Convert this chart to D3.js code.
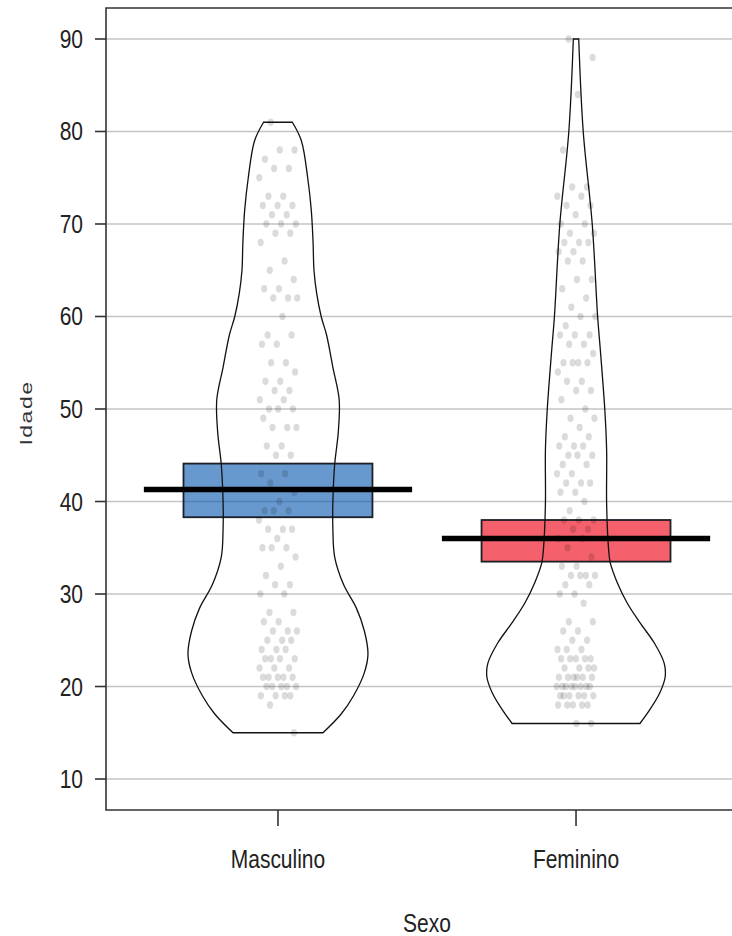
<!DOCTYPE html>
<html>
<head>
<meta charset="utf-8">
<script src="https://cdnjs.cloudflare.com/ajax/libs/d3/7.8.5/d3.min.js"></script>
<style>
body { margin: 0; background: #fff; }
svg { display: block; }
</style>
</head>
<body>
<script>

// categories and summary values
var categories = ["Masculino", "Feminino"]
var means = [41.3, 36.0]
var hdiLow = [38.3, 33.5]
var hdiHigh = [44.1, 38.0]
var barColors = ["#0C5BB0", "#EE0011"]

var yTicks = [10, 20, 30, 40, 50, 60, 70, 80, 90]

// violin outline: age and relative density
var mascDensAge = [15, 17, 19, 21.5, 23.5, 26, 28.5, 31, 34, 37, 40, 44, 47.5, 51, 54.5, 58, 60, 62.5, 65, 68, 71.5, 75, 79, 81]
var mascDens = [0.50, 0.70, 0.84, 0.96, 1.00, 0.96, 0.87, 0.73, 0.63, 0.61, 0.61, 0.63, 0.67, 0.68, 0.61, 0.54, 0.48, 0.43, 0.40, 0.39, 0.37, 0.33, 0.26, 0.16]
var femDensAge = [16, 17.5, 19.3, 21, 22.5, 24.7, 26.9, 29, 31.2, 33.4, 35.1, 39.8, 45.6, 49.9, 56.4, 60, 70, 80, 90]
var femDens = [0.71, 0.82, 0.93, 0.99, 0.98, 0.87, 0.71, 0.57, 0.46, 0.38, 0.36, 0.34, 0.34, 0.32, 0.27, 0.24, 0.18, 0.08, 0.03]

// raw ages (points)
var mascAges = [81, 78,78, 77, 76,76, 75, 73,73, 72,72,72, 71,71, 70,70,70, 69,69, 68, 66, 65, 64, 63,63, 62,62,62, 60, 58,58, 57,57, 55,55, 54, 53,53, 52,52, 51,51, 50,50,50, 49, 48,48,48, 46,46, 45,45, 43,43, 42, 41, 40, 39,39,39, 38, 37,37,37, 36, 35,35,35, 34, 33, 32, 31,31, 30,30, 28,28, 27,27, 26,26,26, 25,25,25, 24,24,24, 23,23,23,23, 22,22,22, 21,21,21,21,21, 20,20,20,20,20, 19,19,19,19, 18, 15]
var femAges = [90, 88, 84, 78, 74,74, 73,73, 72,72, 71, 70,70, 69,69, 68,68,68, 67,67, 66,66, 64,64, 63, 62, 61, 60,60, 59, 58,58,58, 57,57, 56, 55,55,55,55, 54, 53,53, 52,52, 51, 50, 49,49, 48, 47,47, 46,46,46, 45,45,45, 44,44, 43,43, 42,42,42, 41,41, 40, 39, 38,38,38, 37,37, 36,36, 35, 34, 33,33, 32,32,32,32, 31,31, 30,30, 29, 27,27, 26,26, 25,25, 24,24,24, 23,23,23,23,23, 22,22,22,22, 21,21,21,21,21,21, 20,20,20,20,20,20,20,20, 19,19,19,19,19,19, 18,18,18,18,18, 16,16]

var W = 732, H = 936
var panelL = 106, panelR = 748, panelT = 8, panelB = 810
var stretch = 1.22
var narrow = "'Liberation Sans Narrow', 'Arial Narrow', 'Liberation Sans', sans-serif"

var svg = d3.select("body").append("svg")
.attr("width", W)
.attr("height", H)

var x = d3.scaleLinear().domain([0.423, 2.577]).range([panelL, panelR])
var y = d3.scaleLinear().domain([6.65, 93.35]).range([panelB, panelT])
var wScale = d3.scaleLinear().domain([0, 1]).range([0, 90])

// gridlines
svg.append("g").selectAll("line")
.data(yTicks)
.enter()
.append("line")
.attr("x1", panelL)
.attr("x2", panelR)
.attr("y1", function(d){ return y(d) })
.attr("y2", function(d){ return y(d) })
.attr("stroke", "#c4c4c4")
.attr("stroke-width", 1.5)

var groups = [
  {name: categories[0], ages: mascAges, dAge: mascDensAge, dens: mascDens},
  {name: categories[1], ages: femAges, dAge: femDensAge, dens: femDens}
]

// hdi bars
svg.append("g").selectAll("rect")
.data(groups)
.enter()
.append("rect")
.attr("x", function(d,i){ return x(i + 1 - 0.317) })
.attr("width", function(d,i){ return x(0.634) - x(0) })
.attr("y", function(d,i){ return y(hdiHigh[i]) })
.attr("height", function(d,i){ return y(hdiLow[i]) - y(hdiHigh[i]) })
.attr("fill", function(d,i){ return barColors[i] })
.attr("fill-opacity", 0.62)
.attr("stroke", "#1b1f26")
.attr("stroke-width", 1.8)

// beans
groups.forEach(function(g, i)
{
  var pts = g.dAge.map(function(a, k){ return {age: a, d: g.dens[k]} })
  var area = d3.area()
  .y(function(d){ return y(d.age) })
  .x0(function(d){ return x(i + 1) - wScale(d.d) })
  .x1(function(d){ return x(i + 1) + wScale(d.d) })
  .curve(d3.curveCatmullRom)

  svg.append("path")
  .attr("d", area(pts))
  .attr("fill", "none")
  .attr("stroke", "#111")
  .attr("stroke-width", 1.3)
})

// points, spread sideways with a fixed low-discrepancy offset
groups.forEach(function(g, i)
{
  svg.append("g").selectAll("ellipse")
  .data(g.ages)
  .enter()
  .append("ellipse")
  .attr("cx", function(d,k){
    var off = ((k * 0.618034 + 0.31) % 1) - 0.5
    return x(i + 1 + off * 0.13)
  })
  .attr("cy", function(d){ return y(d) })
  .attr("rx", 3.1)
  .attr("ry", 3.7)
  .attr("fill", "#000")
  .attr("fill-opacity", 0.14)
})

// mean lines
svg.append("g").selectAll("line")
.data(means)
.enter()
.append("line")
.attr("x1", function(d,i){ return x(i + 1 - 0.45) })
.attr("x2", function(d,i){ return x(i + 1 + 0.45) })
.attr("y1", function(d){ return y(d) })
.attr("y2", function(d){ return y(d) })
.attr("stroke", "#000")
.attr("stroke-width", 5.5)

// panel border (right side falls off the image)
svg.append("path")
.attr("d", "M" + panelR + "," + panelT + "H" + panelL + "V" + panelB + "H" + panelR)
.attr("fill", "none")
.attr("stroke", "#333")
.attr("stroke-width", 1.6)

// y axis ticks + labels
var yAxis = svg.append("g")
yAxis.selectAll("line")
.data(yTicks)
.enter()
.append("line")
.attr("x1", panelL - 11)
.attr("x2", panelL)
.attr("y1", function(d){ return y(d) })
.attr("y2", function(d){ return y(d) })
.attr("stroke", "#333")
.attr("stroke-width", 1.6)

yAxis.selectAll("text")
.data(yTicks)
.enter()
.append("text")
.attr("transform", function(d){ return "translate(83," + (y(d) + 9) + ") scale(1," + stretch + ")" })
.attr("text-anchor", "end")
.attr("font-family", narrow)
.attr("font-size", 21)
.attr("fill", "#222")
.text(function(d){ return d })

// x axis ticks + labels
var xAxis = svg.append("g")
xAxis.selectAll("line")
.data(categories)
.enter()
.append("line")
.attr("x1", function(d,i){ return x(i + 1) })
.attr("x2", function(d,i){ return x(i + 1) })
.attr("y1", panelB)
.attr("y2", panelB + 16)
.attr("stroke", "#333")
.attr("stroke-width", 1.6)

xAxis.selectAll("text")
.data(categories)
.enter()
.append("text")
.attr("transform", function(d,i){ return "translate(" + x(i + 1) + ",868) scale(1," + stretch + ")" })
.attr("text-anchor", "middle")
.attr("font-family", narrow)
.attr("font-size", 21)
.attr("fill", "#222")
.text(function(d){ return d })

// axis titles
svg.append("text")
.attr("transform", "translate(32,413) rotate(-90) scale(1.45,1)")
.attr("text-anchor", "middle")
.attr("font-family", "'Liberation Sans', Arial, sans-serif")
.attr("font-size", 16)
.attr("letter-spacing", 1)
.attr("fill", "#333")
.text("Idade")

svg.append("text")
.attr("transform", "translate(" + ((panelL + panelR) / 2) + ",932) scale(1," + stretch + ")")
.attr("text-anchor", "middle")
.attr("font-family", narrow)
.attr("font-size", 21)
.attr("fill", "#222")
.text("Sexo")

</script>
</body>
</html>
